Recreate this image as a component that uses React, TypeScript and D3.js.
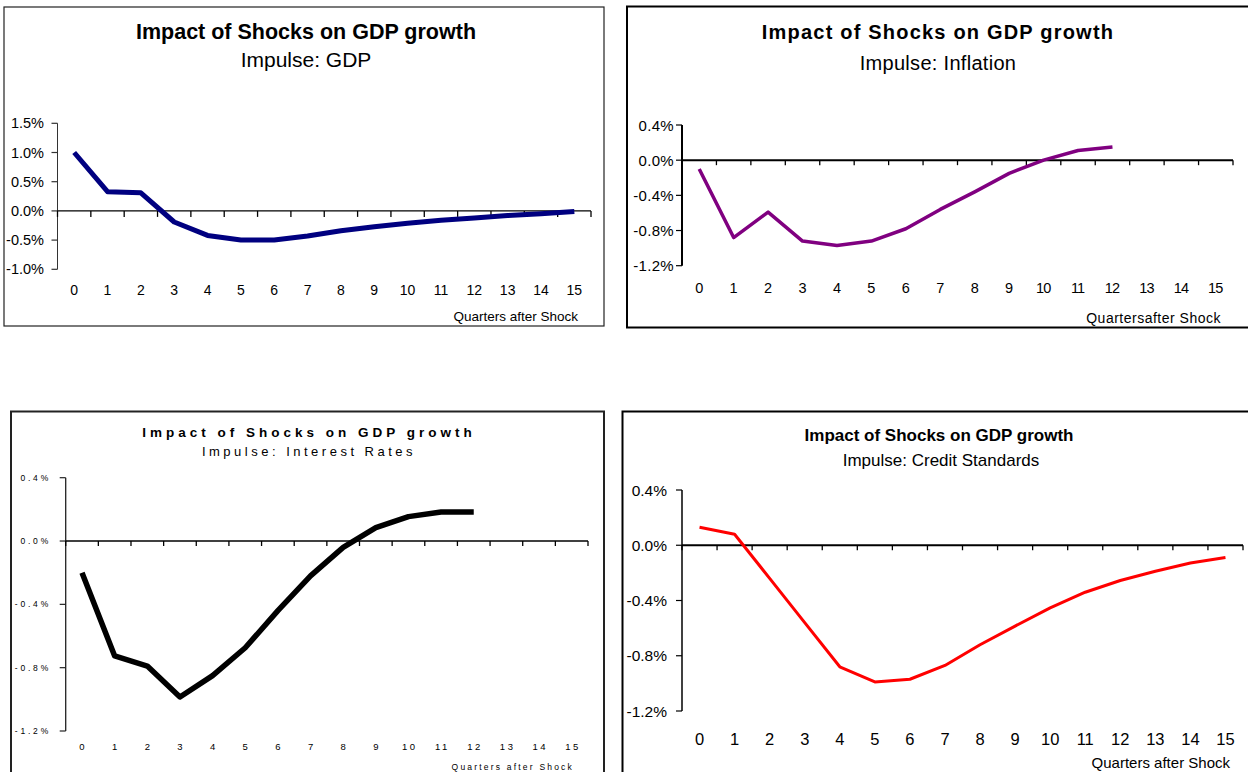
import React from "react";
import * as d3 from "d3";

// ---------- data (percent units) ----------
const QUARTERS = [0, 1, 2, 3, 4, 5, 6, 7, 8, 9, 10, 11, 12, 13, 14, 15];
const gdpImpulse = [1.0, 0.33, 0.31, -0.19, -0.42, -0.5, -0.5, -0.43, -0.34, -0.27, -0.21, -0.16, -0.12, -0.08, -0.05, -0.01];
const inflationImpulse = [-0.1, -0.88, -0.59, -0.92, -0.97, -0.92, -0.78, -0.56, -0.36, -0.15, 0.0, 0.11, 0.15];
const interestImpulse = [-0.2, -0.726, -0.79, -0.985, -0.85, -0.674, -0.44, -0.22, -0.04, 0.084, 0.154, 0.183, 0.183];
const creditImpulse = [0.13, 0.08, -0.24, -0.56, -0.88, -0.99, -0.97, -0.87, -0.72, -0.585, -0.453, -0.34, -0.255, -0.188, -0.128, -0.089];
const yTicksGdp = [-1.0, -0.5, 0.0, 0.5, 1.0, 1.5];
const yTicksOther = [-1.2, -0.8, -0.4, 0.0, 0.4];
const TITLE = "Impact of Shocks on GDP growth";
const SUBTITLES = ["Impulse: GDP", "Impulse: Inflation", "Impulse: Interest Rates", "Impulse: Credit Standards"];
const XLABEL = "Quarters after Shock";

const FONT = "'Liberation Sans', Arial, Helvetica, sans-serif";

type TextCfg = { x: number; y: number; size: number; ls: number; weight?: string };

type PanelCfg = {
  data: number[];
  color: string;
  lineWidth: number;
  frame: { x: number; y: number; w: number; h: number; stroke: string; sw: number };
  plot: { x0: number; x1: number; yTop: number; yBot: number };
  yDomain: [number, number];
  yTicks: number[];
  axisColor: string;
  yAxisWidth: number;
  xAxisWidth: number;
  title: TextCfg;
  subtitle: TextCfg;
  subtitleText: string;
  yLab: { xEnd: number; size: number; ls: number };
  xLab: { y: number; size: number; ls: number };
  qLab: TextCfg & { text: string };
  tickLen: number;
};

const panels: PanelCfg[] = [
  {
    data: gdpImpulse,
    color: "#000080",
    lineWidth: 5,
    frame: { x: 4, y: 7, w: 600, h: 319, stroke: "#222", sw: 1.2 },
    plot: { x0: 57.5, x1: 591, yTop: 123.3, yBot: 269.3 },
    yDomain: [-1.0, 1.5],
    yTicks: yTicksGdp,
    axisColor: "#333",
    yAxisWidth: 1,
    xAxisWidth: 1.2,
    title: { x: 306, y: 32, size: 21.5, ls: 0, weight: "bold" },
    subtitle: { x: 306, y: 59, size: 21, ls: 0 },
    subtitleText: SUBTITLES[0],
    yLab: { xEnd: 44, size: 14.5, ls: 0 },
    xLab: { y: 290, size: 14, ls: 0 },
    qLab: { text: XLABEL, x: 578, y: 316, size: 13.5, ls: 0 },
    tickLen: 6,
  },
  {
    data: inflationImpulse,
    color: "#800080",
    lineWidth: 3.5,
    frame: { x: 627, y: 6.5, w: 640, h: 321, stroke: "#000", sw: 2 },
    plot: { x0: 682, x1: 1233, yTop: 125, yBot: 265.7 },
    yDomain: [-1.2, 0.4],
    yTicks: yTicksOther,
    axisColor: "#000",
    yAxisWidth: 2,
    xAxisWidth: 2,
    title: { x: 938, y: 32, size: 20, ls: 1.2, weight: "bold" },
    subtitle: { x: 938, y: 62.5, size: 20, ls: 0.3 },
    subtitleText: SUBTITLES[1],
    yLab: { xEnd: 674, size: 15, ls: 0.3 },
    xLab: { y: 287.5, size: 14.5, ls: -0.8 },
    qLab: { text: "Quartersafter Shock", x: 1221, y: 318.3, size: 14, ls: 0.5 },
    tickLen: 5,
  },
  {
    data: interestImpulse,
    color: "#000",
    lineWidth: 5.5,
    frame: { x: 11, y: 411.5, w: 593, h: 400, stroke: "#222", sw: 2 },
    plot: { x0: 65.7, x1: 588, yTop: 477.7, yBot: 731 },
    yDomain: [-1.2, 0.4],
    yTicks: yTicksOther,
    axisColor: "#222",
    yAxisWidth: 1.3,
    xAxisWidth: 1.5,
    title: { x: 309, y: 432, size: 13.5, ls: 4, weight: "bold" },
    subtitle: { x: 309, y: 451, size: 13, ls: 3.5 },
    subtitleText: SUBTITLES[2],
    yLab: { xEnd: 51, size: 8.5, ls: 2.8 },
    xLab: { y: 746, size: 9.5, ls: 2.5 },
    qLab: { text: XLABEL, x: 574, y: 767, size: 8.5, ls: 2.2 },
    tickLen: 5,
  },
  {
    data: creditImpulse,
    color: "#FF0000",
    lineWidth: 3,
    frame: { x: 622.5, y: 411.5, w: 700, h: 400, stroke: "#000", sw: 2 },
    plot: { x0: 682, x1: 1243, yTop: 490, yBot: 711 },
    yDomain: [-1.2, 0.4],
    yTicks: yTicksOther,
    axisColor: "#000",
    yAxisWidth: 1.5,
    xAxisWidth: 2,
    title: { x: 939, y: 435.5, size: 17, ls: 0, weight: "bold" },
    subtitle: { x: 941, y: 460.5, size: 17, ls: 0 },
    subtitleText: SUBTITLES[3],
    yLab: { xEnd: 667, size: 15.5, ls: 0 },
    xLab: { y: 738.5, size: 16.5, ls: 0 },
    qLab: { text: XLABEL, x: 1230, y: 762, size: 15, ls: 0 },
    tickLen: 5,
  },
];

const fmt = (v: number) => (Math.abs(v) < 1e-9 ? "0.0" : v.toFixed(1)) + "%";

function Panel({ cfg }: { cfg: PanelCfg }) {
  const { plot } = cfg;
  const x = d3.scaleBand<number>().domain(QUARTERS).range([plot.x0, plot.x1]).paddingInner(0).paddingOuter(0);
  const xc = (q: number) => (x(q) as number) + x.bandwidth() / 2;
  const y = d3.scaleLinear().domain(cfg.yDomain).range([plot.yBot, plot.yTop]);
  const zeroY = y(0);
  const line = d3
    .line<number>()
    .x((_, i) => xc(QUARTERS[i]))
    .y((d) => y(d));
  const boundaries = [...QUARTERS.map((q) => x(q) as number), plot.x1];

  return (
    <g fontFamily={FONT}>
      <rect
        x={cfg.frame.x}
        y={cfg.frame.y}
        width={cfg.frame.w}
        height={cfg.frame.h}
        fill="#fff"
        stroke={cfg.frame.stroke}
        strokeWidth={cfg.frame.sw}
      />
      <text
        x={cfg.title.x}
        y={cfg.title.y}
        fontSize={cfg.title.size}
        fontWeight="bold"
        letterSpacing={cfg.title.ls}
        textAnchor="middle"
        dominantBaseline="central"
        fill="#000"
      >
        {TITLE}
      </text>
      <text
        x={cfg.subtitle.x}
        y={cfg.subtitle.y}
        fontSize={cfg.subtitle.size}
        letterSpacing={cfg.subtitle.ls}
        textAnchor="middle"
        dominantBaseline="central"
        fill="#000"
      >
        {cfg.subtitleText}
      </text>
      {/* y axis */}
      <line x1={plot.x0} x2={plot.x0} y1={plot.yTop} y2={plot.yBot} stroke={cfg.axisColor} strokeWidth={cfg.yAxisWidth} />
      {cfg.yTicks.map((t) => (
        <g key={t}>
          <line x1={plot.x0 - 6} x2={plot.x0} y1={y(t)} y2={y(t)} stroke={cfg.axisColor} strokeWidth={1.2} />
          <text
            x={cfg.yLab.xEnd}
            y={y(t)}
            fontSize={cfg.yLab.size}
            letterSpacing={cfg.yLab.ls}
            textAnchor="end"
            dominantBaseline="central"
            fill="#000"
          >
            {fmt(t)}
          </text>
        </g>
      ))}
      {/* x axis at zero */}
      <line x1={plot.x0} x2={plot.x1} y1={zeroY} y2={zeroY} stroke="#000" strokeWidth={cfg.xAxisWidth} />
      {boundaries.map((b, i) => (
        <line key={i} x1={b} x2={b} y1={zeroY} y2={zeroY + cfg.tickLen} stroke="#000" strokeWidth={1.3} />
      ))}
      {QUARTERS.map((q) => (
        <text
          key={q}
          x={xc(q) + cfg.xLab.ls / 2}
          y={cfg.xLab.y}
          fontSize={cfg.xLab.size}
          letterSpacing={cfg.xLab.ls}
          textAnchor="middle"
          dominantBaseline="central"
          fill="#000"
        >
          {q}
        </text>
      ))}
      <text
        x={cfg.qLab.x}
        y={cfg.qLab.y}
        fontSize={cfg.qLab.size}
        letterSpacing={cfg.qLab.ls}
        textAnchor="end"
        dominantBaseline="central"
        fill="#000"
      >
        {cfg.qLab.text}
      </text>
      <path
        d={line(cfg.data) || ""}
        fill="none"
        stroke={cfg.color}
        strokeWidth={cfg.lineWidth}
        strokeLinejoin="round"
        strokeLinecap="butt"
      />
    </g>
  );
}

export default function App() {
  return (
    <svg
      width={1248}
      height={772}
      viewBox="0 0 1248 772"
      style={{ position: "absolute", left: 0, top: 0, background: "#fff" }}
    >
      <rect x={0} y={0} width={1248} height={772} fill="#fff" />
      {panels.map((p, i) => (
        <Panel key={i} cfg={p} />
      ))}
    </svg>
  );
}
